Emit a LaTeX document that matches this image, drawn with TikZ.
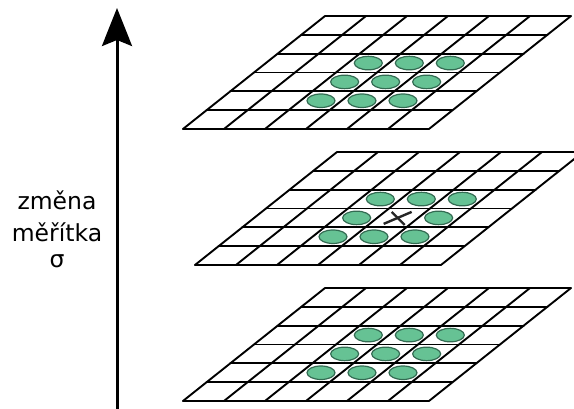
\documentclass[tikz,border=0pt]{standalone}
\usepackage{fontspec}
\setmainfont{DejaVu Sans}
\usetikzlibrary{arrows.meta,shapes.geometric}
\definecolor{SpotClr}{rgb}{0.40,0.76,0.58}
\definecolor{SpotEdge}{rgb}{0.20,0.42,0.32}

\begin{document}
\begin{tikzpicture}[x=1pt,y=-1pt,
  gridline/.style={line width=1.9pt,black,line cap=round},
  spot/.style={ellipse,draw=SpotEdge,line width=1.2pt,fill=SpotClr,
    minimum width=28pt,minimum height=13.5pt,inner sep=0pt},
  crossline/.style={line width=2.4pt,black!85},
  scalearrow/.style={line width=3pt,-{Stealth[length=38pt,width=30pt,inset=6pt]}},
  scaletext/.style={font=\fontsize{23.5}{28}\selectfont,anchor=base}]
\useasboundingbox (0,0) rectangle (574,408);
\clip (0,0) rectangle (574,408);

\foreach \lay/\ox/\oy/\ctr in {top/325/16/1,mid/337/152/0,bot/325/288/1}{
  \begin{scope}[shift={(\ox,\oy)},x={(41pt,0pt)},y={(-23.67pt,-18.83pt)}]
    \foreach \i in {0,...,6}{
      \draw[gridline] (\i,0) -- (\i,6);
      \draw[gridline] (0,\i) -- (6,\i);
    }
    \foreach \u/\v in {2/2,3/2,4/2,2/3,4/3,2/4,3/4,4/4}
      \node[spot] (\lay-\u-\v) at (\u+0.5,\v+0.5) {};
    \coordinate (\lay-c) at (3.5,3.5);
    \ifnum\ctr=1
      \node[spot] (\lay-3-3) at (\lay-c) {};
    \else
      \draw[crossline] ([shift={(-14pt,-6pt)}]\lay-c) -- ([shift={(14pt,6pt)}]\lay-c);
      \draw[crossline] ([shift={(-6pt,6pt)}]\lay-c) -- ([shift={(7pt,-7pt)}]\lay-c);
    \fi
  \end{scope}
}

\coordinate (arrbot) at (117,412);
\coordinate (arrtip) at (117,8);
\draw[scalearrow] (arrbot) -- (arrtip);

\node[scaletext] (zmena) at (57,209) {změna};
\node[scaletext] (meritka) at (57,241) {měřítka};
\node[scaletext] (sigma) at (57,267) {σ};

\end{tikzpicture}
\end{document}
